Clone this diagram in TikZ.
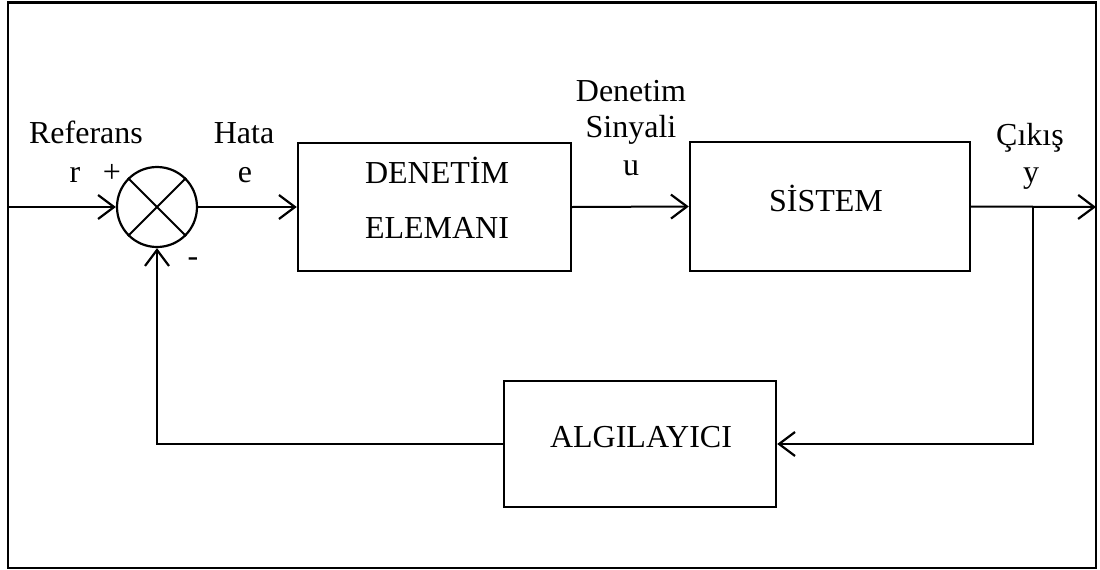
\documentclass[tikz,border=0pt]{standalone}
\usepackage{fontspec}
\setmainfont{Liberation Serif}
\usetikzlibrary{arrows.meta}
\begin{document}
\begin{tikzpicture}[x=1pt,y=-1pt,
  blk/.style={draw,line width=2.4pt,inner sep=0pt},
  conn/.style={line width=2pt,-{Straight Barb[length=16pt,width=24pt,line width=2.2pt]}},
  lbl/.style={font=\fontsize{32}{38}\selectfont,anchor=base,inner sep=0pt}]
\useasboundingbox (0,0) rectangle (1100,570);
\draw[line width=2.6pt] (8,2.5) rectangle (1096,568);
% blocks
\node[blk,minimum width=273pt,minimum height=128pt] (ctrl) at (434.5,207) {};
\node[blk,minimum width=280pt,minimum height=129pt] (sys) at (830,206.5) {};
\node[blk,minimum width=272pt,minimum height=126pt] (sens) at (640,444) {};
% summing junction
\node[draw,circle,line width=2.2pt,minimum size=80pt,inner sep=0pt] (sum) at (157,207) {};
\draw[line width=2pt] (sum.north west) -- (sum.south east);
\draw[line width=2pt] (sum.north east) -- (sum.south west);
% block texts
\node[lbl] (t1) at (437,183) {DENETİM};
\node[lbl] (t2) at (437,238) {ELEMANI};
\node[lbl] (t3) at (826,211) {SİSTEM};
\node[lbl] (t4) at (641,447) {ALGILAYICI};
% signal labels
\node[lbl] (l1) at (86,143) {Referans};
\node[lbl] (l2) at (75,182) {r};
\node[lbl] (l3) at (112,182) {+};
\node[lbl] (l4) at (244,143) {Hata};
\node[lbl] (l5) at (245,182) {e};
\node[lbl] (l6) at (193,266) {-};
\node[lbl] (l7) at (631,101) {Denetim};
\node[lbl] (l8) at (631,137) {Sinyali};
\node[lbl] (l9) at (631,175) {u};
\node[lbl] (l10) at (1030,145) {Çıkış};
\node[lbl] (l11) at (1031,182) {y};
% connectors
\coordinate (in) at (8,207);
\coordinate (out) at (1096,207);
\coordinate (br) at (1033,207);
\draw[conn] (in) -- (sum.west);
\draw[conn] (sum.east) -- (ctrl.west);
\draw[conn] (ctrl.east) -- (sys.west);
\draw[conn] (sys.east) -- (out);
\draw[conn] (br) |- (sens.east);
\draw[conn] (sens.west) -| (sum.south);
\end{tikzpicture}
\end{document}
